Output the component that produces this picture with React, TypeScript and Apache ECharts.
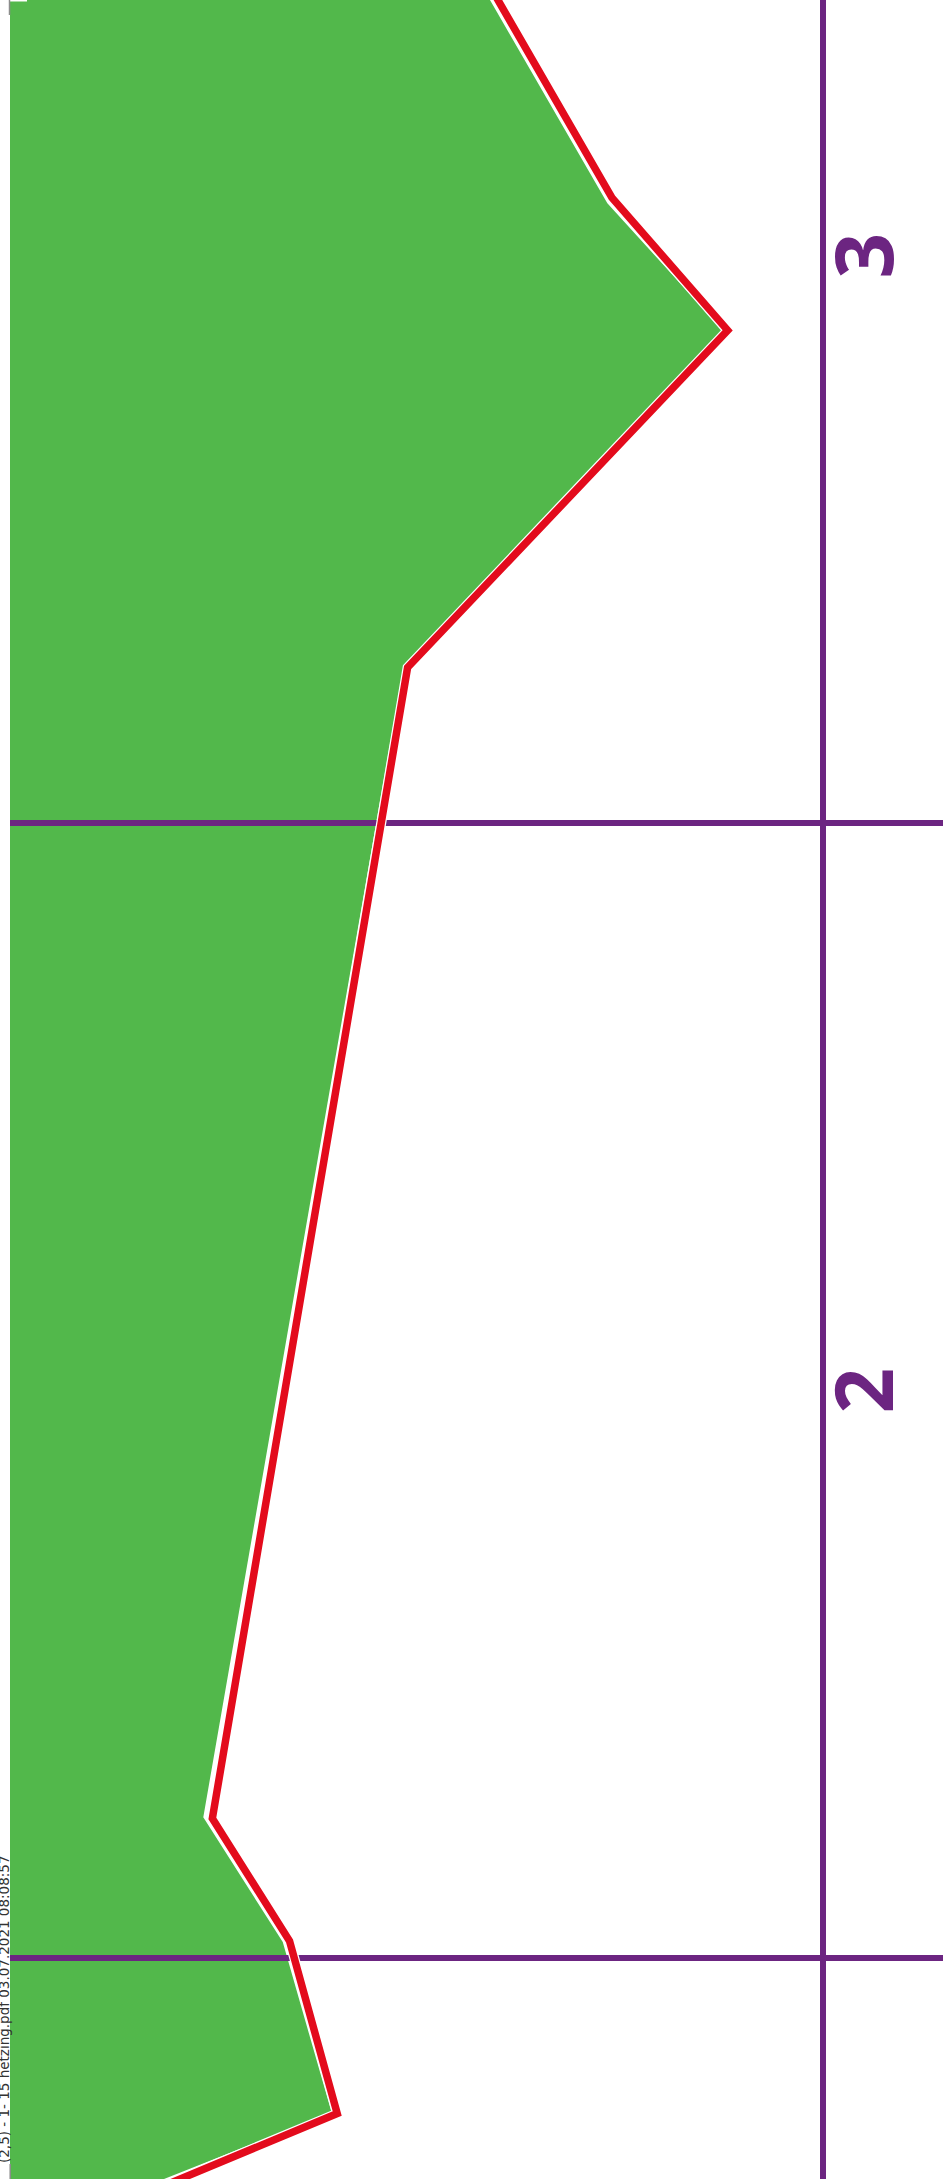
import React, { useEffect, useRef } from "react";
import * as echarts from "echarts";

// ---------- data ----------
// green profile: horizontal value (grid-cell units) against station (km)
const profileX = [0.698, 0.810, 0.912, 0.630, 0.454, 0.524, 0.567, 0.381];
const profileKm = [3.240, 3.046, 2.934, 2.636, 1.624, 1.514, 1.364, 1.290];
// red limit line
const limitX = [0.705, 0.814, 0.916, 0.634, 0.462, 0.530, 0.572, 0.397];
const limitKm = [3.240, 3.051, 2.934, 2.637, 1.623, 1.515, 1.363, 1.290];
// station tick labels
const stationLabels = [2, 3];
// footer note
const footerText = "(2,5) - 1- 15 hetzing.pdf 03.07.2021 08:08:57";

// ---------- styles / layout ----------
const PURPLE = "#6C2581";
const GREEN = "#52B84B";
const RED = "#E30B1C";
const W = 947;
const H = 2179;
const CELL = 1135; // px per grid unit
const LINE_AT = 823; // px position of the visible grid lines' origin
const KM_MIN = 0.5;
const KM_MAX = 3.5;

export default function App() {
  const ref = useRef<HTMLDivElement | null>(null);

  useEffect(() => {
    if (!ref.current) return;
    const chart = echarts.init(ref.current, undefined, { renderer: "svg" });

    const gridLeft = LINE_AT - CELL; // value 0 on x
    const gridTop = LINE_AT - CELL * (KM_MAX - 2.5);
    const gridWidth = 943 - gridLeft;
    const gridHeight = CELL * (KM_MAX - KM_MIN);
    const xMax = gridWidth / CELL;

    const profileData = profileX.map((x, i) => [x, profileKm[i]]);
    const limitData = limitX.map((x, i) => [x, limitKm[i]]);

    chart.setOption({
      animation: false,
      backgroundColor: "#ffffff",
      grid: {
        left: gridLeft,
        top: gridTop,
        width: gridWidth,
        height: gridHeight,
        containLabel: false,
        outerBoundsMode: "none",
      },
      xAxis: {
        type: "value",
        min: 0,
        max: xMax,
        interval: 1,
        z: 3,
        axisLine: { show: false },
        axisTick: { show: false },
        axisLabel: { show: false },
        splitLine: {
          show: true,
          showMinLine: false,
          showMaxLine: false,
          lineStyle: { color: PURPLE, width: 6 },
        },
      },
      yAxis: [
        {
          type: "value",
          min: KM_MIN,
          max: KM_MAX,
          interval: 0.5,
          position: "left",
          offset: -(LINE_AT - gridLeft),
          z: 3,
          axisLine: { show: false, onZero: false },
          axisTick: { show: false },
          splitLine: { show: false },
          axisLabel: {
            show: true,
            inside: true,
            margin: 38,
            rotate: 90,
            align: "center",
            verticalAlign: "middle",
            color: PURPLE,
            fontSize: 80,
            fontWeight: "bold",
            fontFamily: "Open Sans",
            formatter: (v: number) =>
              stationLabels.includes(v) ? String(v) : "",
          },
        },
        {
          type: "value",
          min: 0,
          max: KM_MAX - KM_MIN,
          interval: 1,
          position: "right",
          z: 3,
          axisLine: { show: false, onZero: false },
          axisTick: { show: false },
          axisLabel: { show: false },
          splitLine: {
            show: true,
            showMinLine: false,
            showMaxLine: false,
            lineStyle: { color: PURPLE, width: 6 },
          },
        },
      ],
      series: [
        {
          type: "custom",
          name: "profile",
          xAxisIndex: 0,
          yAxisIndex: 0,
          z: 1,
          silent: true,
          clip: true,
          data: profileData,
          encode: { x: 0, y: 1 },
          renderItem: (params: any, api: any) => {
            if (params.dataIndex !== 0) return null;
            const pts = profileData.map((p) => api.coord(p));
            const baseTop = api.coord([0, profileData[0][1]]);
            const baseBot = api.coord([0, profileData[profileData.length - 1][1]]);
            return {
              type: "polygon",
              shape: { points: [baseTop, ...pts, baseBot] },
              style: { fill: GREEN },
            };
          },
        },
        {
          type: "line",
          name: "limit-gap",
          xAxisIndex: 0,
          yAxisIndex: 0,
          z: 4,
          silent: true,
          symbol: "none",
          data: limitData,
          lineStyle: { color: "#ffffff", width: 10, join: "miter", cap: "butt" },
        },
        {
          type: "line",
          name: "limit",
          xAxisIndex: 0,
          yAxisIndex: 0,
          z: 5,
          silent: true,
          symbol: "none",
          data: limitData,
          lineStyle: { color: RED, width: 7.5, join: "miter", cap: "butt" },
        },
      ],
      graphic: [
        {
          type: "rect",
          z: 100,
          shape: { x: 0, y: 0, width: 10, height: H },
          style: { fill: "#ffffff" },
        },
        {
          type: "rect",
          z: 101,
          shape: { x: 10, y: 0, width: 17, height: 1.5 },
          style: { fill: "#ffffff" },
        },
        {
          type: "line",
          z: 101,
          shape: { x1: 9.5, y1: 0, x2: 9.5, y2: 15 },
          style: { stroke: "#8c8c8c", lineWidth: 1.5 },
        },
        {
          type: "line",
          z: 101,
          shape: { x1: 10.2, y1: 2164, x2: 10.2, y2: H },
          style: { stroke: "#8c8c8c", lineWidth: 1.5 },
        },
        {
          type: "text",
          z: 102,
          x: 4,
          y: 2163,
          rotation: Math.PI / 2,
          style: {
            text: footerText,
            fontSize: 13.5,
            fontFamily: "DejaVu Sans",
            fill: "#333333",
            align: "left",
            verticalAlign: "middle",
          },
        },
      ],
    });

    return () => chart.dispose();
  }, []);

  return (
    <div
      ref={ref}
      style={{ position: "absolute", left: 0, top: 0, width: W, height: H }}
    />
  );
}
